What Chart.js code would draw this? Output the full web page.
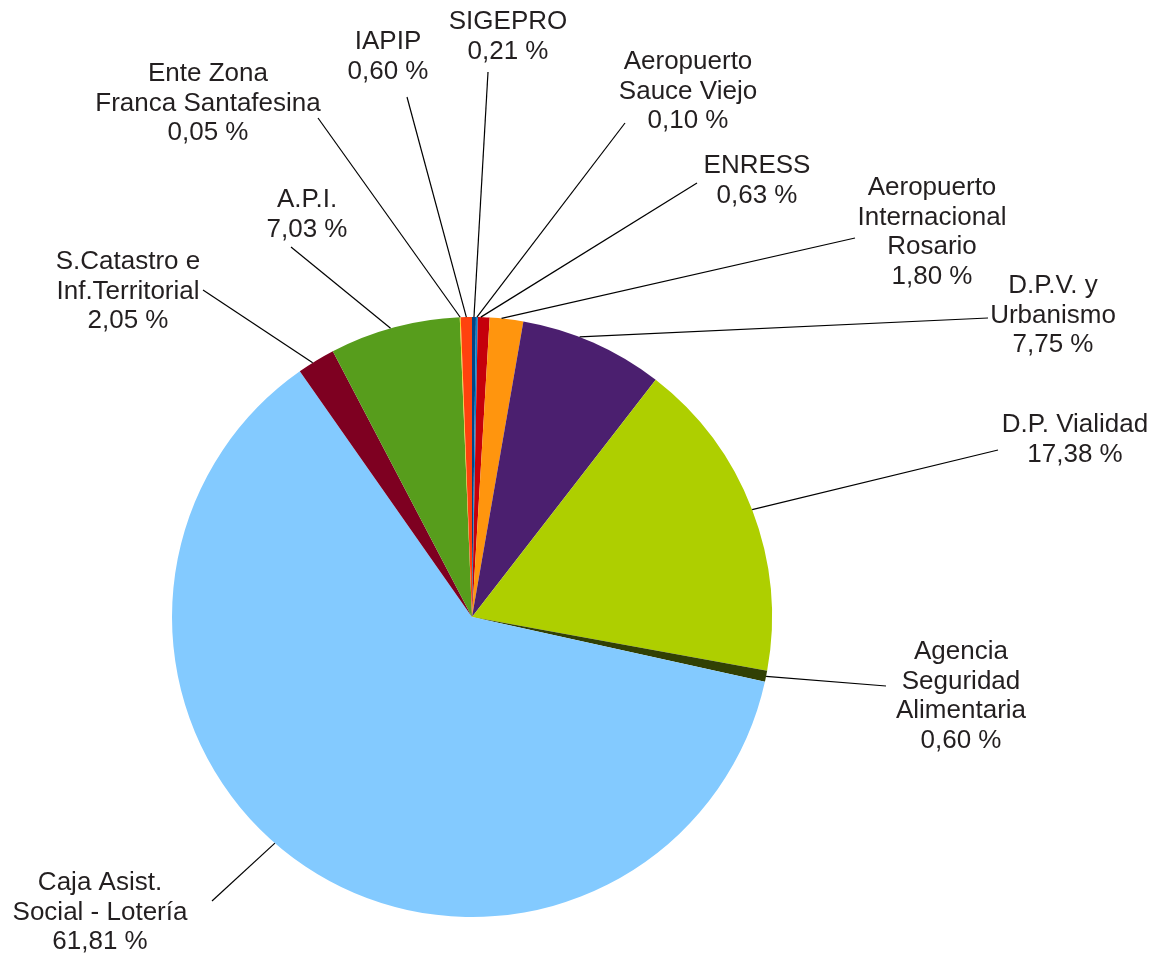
<!DOCTYPE html>
<html>
<head>
<meta charset="utf-8">
<script src="https://cdn.jsdelivr.net/npm/chart.js@4"></script>
<style>
  html, body { margin: 0; padding: 0; background: #fff; }
  #wrap { width: 1154px; height: 956px; }
</style>
</head>
<body>
<div id="wrap"><canvas id="chart" width="1154" height="956"></canvas></div>
<script>
// DATA (clockwise from 12 o'clock)
const categories = [
  "SIGEPRO", "Aeropuerto Sauce Viejo", "ENRESS", "Aeropuerto Internacional Rosario",
  "D.P.V. y Urbanismo", "D.P. Vialidad", "Agencia Seguridad Alimentaria",
  "Caja Asist. Social - Lotería", "S.Catastro e Inf.Territorial", "A.P.I.",
  "Ente Zona Franca Santafesina", "IAPIP"
];
const shares = [0.21, 0.10, 0.63, 1.80, 7.75, 17.38, 0.60, 61.81, 2.05, 7.03, 0.05, 0.60];
const labelLines = [
  ["SIGEPRO"], ["Aeropuerto", "Sauce Viejo"], ["ENRESS"], ["Aeropuerto", "Internacional", "Rosario"],
  ["D.P.V. y", "Urbanismo"], ["D.P. Vialidad"], ["Agencia", "Seguridad", "Alimentaria"],
  ["Caja Asist.", "Social - Lotería"], ["S.Catastro e", "Inf.Territorial"], ["A.P.I."],
  ["Ente Zona", "Franca Santafesina"], ["IAPIP"]
];

// STYLE
const colors = ["#004586", "#0084D1", "#C5000B", "#FF950E", "#4B1F6F", "#AECF00",
  "#314004", "#83CAFF", "#7E0021", "#579D1C", "#FFD320", "#FF420E"];

// label layout: centre x and y of first line, leader end near the text, where on the slice the leader starts
const labelPos = [[508, 22], [688, 62], [757, 166], [932, 188], [1053, 286], [1075, 425],
  [961, 652], [100, 883], [128, 262], [307, 200], [208, 74], [388, 42]];
const leaderEnd = [[488, 72], [625, 123], [697, 183], [855, 238], [988, 318], [998, 450],
  [886, 686], [212, 901], [203, 290], [291, 247], [318, 118], [407, 97]];
const anchorAt = [0.5, 0.5, 0.25, 0.35, 0.4, 0.5, 0.5, 0.533, 0.4, 0.47, 0.5, 0.5];

const fmt = v => v.toFixed(2).replace(".", ",") + " %";

const leaderLabels = {
  id: "leaderLabels",
  afterDraw(chart) {
    const ctx = chart.ctx;
    const arcs = chart.getDatasetMeta(0).data;
    ctx.save();
    ctx.strokeStyle = "#000";
    ctx.lineWidth = 1.2;
    arcs.forEach((arc, i) => {
      const a = arc.startAngle + (arc.endAngle - arc.startAngle) * anchorAt[i];
      const r = arc.outerRadius;
      ctx.beginPath();
      ctx.moveTo(arc.x + Math.cos(a) * r, arc.y + Math.sin(a) * r);
      ctx.lineTo(leaderEnd[i][0], leaderEnd[i][1]);
      ctx.stroke();
    });
    ctx.fillStyle = "#231f20";
    ctx.font = "26px 'Liberation Sans', Arial, sans-serif";
    ctx.textAlign = "center";
    ctx.textBaseline = "middle";
    labelLines.forEach((lines, i) => {
      const all = lines.concat([fmt(shares[i])]);
      all.forEach((t, k) => ctx.fillText(t, labelPos[i][0], labelPos[i][1] + k * 29.5));
    });
    ctx.restore();
  }
};

new Chart(document.getElementById("chart"), {
  type: "pie",
  data: {
    labels: categories,
    datasets: [{ data: shares, backgroundColor: colors, borderWidth: 0 }]
  },
  options: {
    responsive: false,
    animation: false,
    layout: { padding: { left: 172, right: 382, top: 317, bottom: 39 } },
    plugins: { legend: { display: false }, tooltip: { enabled: false } }
  },
  plugins: [leaderLabels]
});
</script>
</body>
</html>
